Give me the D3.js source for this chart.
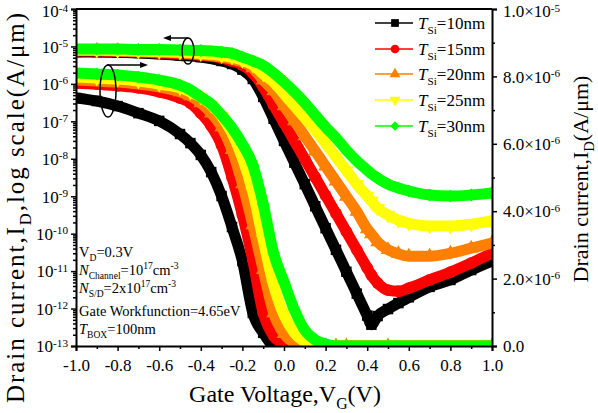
<!DOCTYPE html>
<html>
<head>
<meta charset="utf-8">
<script src="https://cdn.jsdelivr.net/npm/d3@7"></script>
<style>
  body { margin: 0; background: #fff; }
  svg, svg text { font-family: "Liberation Serif", "Times New Roman", serif; }
</style>
</head>
<body>
<div id="chart"></div>
<script>
// Gate voltage grid for the log-scale curves (left axis)
var vgLog = [-1.0, -0.9, -0.8, -0.7, -0.6, -0.5, -0.4, -0.3, -0.25, -0.2, -0.15, -0.1, -0.05,
  0.0, 0.05, 0.1, 0.15, 0.2, 0.25, 0.3, 0.35, 0.4, 0.42, 0.45, 0.5, 0.55, 0.6, 0.7, 0.8, 0.9, 1.0];

// Drain current (A/um), log-scale curves
var idLog10 = [7.1e-6, 7.1e-6, 6.9e-6, 6.7e-6, 6.3e-6, 5.75e-6, 5.2e-6, 4.1e-6, 3.4e-6, 2.4e-6, 1.35e-6, 4.5e-7, 1.17e-7,
  3.0e-8, 7.9e-9, 2.1e-9, 5.4e-10, 1.4e-10, 3.7e-11, 9.6e-12, 2.5e-12, 6.5e-13, 3.7e-13, 6.3e-13, 9.7e-13, 1.4e-12, 2.0e-12, 3.8e-12, 5.8e-12, 1.07e-11, 1.86e-11];
var idLog15 = [7.55e-6, 7.55e-6, 7.33e-6, 7.1e-6, 6.7e-6, 6.3e-6, 5.75e-6, 4.9e-6, 4.1e-6, 3.2e-6, 1.95e-6, 8.3e-7, 2.7e-7,
  9.0e-8, 3.0e-8, 9.9e-9, 3.2e-9, 1.05e-9, 3.45e-10, 1.13e-10, 3.7e-11, 1.22e-11, 7.9e-12, 4.8e-12, 3.1e-12, 2.9e-12, 3.5e-12, 5.8e-12, 9.4e-12, 1.64e-11, 3.0e-11];
var idLog20 = [7.8e-6, 7.8e-6, 7.55e-6, 7.33e-6, 7.1e-6, 6.7e-6, 6.1e-6, 5.2e-6, 4.6e-6, 3.85e-6, 2.65e-6, 1.27e-6, 6.5e-7,
  2.57e-7, 1.02e-7, 4.05e-8, 1.6e-8, 6.3e-9, 2.5e-9, 9.9e-10, 3.9e-10, 1.33e-10, 9.8e-11, 6.0e-11, 3.7e-11, 2.9e-11, 2.5e-11, 2.5e-11, 3.0e-11, 4.1e-11, 5.6e-11];
var idLog25 = [8.0e-6, 8.0e-6, 7.8e-6, 7.55e-6, 7.33e-6, 7.1e-6, 6.5e-6, 5.75e-6, 5.2e-6, 4.3e-6, 3.2e-6, 1.84e-6, 1.12e-6,
  5.4e-7, 2.6e-7, 1.23e-7, 5.9e-8, 2.6e-8, 1.11e-8, 4.85e-9, 2.1e-9, 1.01e-9, 7.5e-10, 4.8e-10, 3.15e-10, 2.3e-10, 1.9e-10, 1.6e-10, 1.6e-10, 1.8e-10, 2.2e-10];
var idLog30 = [8.55e-6, 8.55e-6, 8.55e-6, 8.3e-6, 8.3e-6, 8.0e-6, 7.8e-6, 7.1e-6, 6.5e-6, 5.2e-6, 4.1e-6, 3.1e-6, 1.95e-6,
  1.12e-6, 6.1e-7, 3.1e-7, 1.47e-7, 7.0e-8, 3.6e-8, 1.7e-8, 8.7e-9, 5.0e-9, 4.0e-9, 3.06e-9, 2.1e-9, 1.66e-9, 1.38e-9, 1.08e-9, 1.01e-9, 1.08e-9, 1.22e-9];

// Gate voltage grid for the linear-scale curves (right axis)
var vgLin = [-1.0, -0.9, -0.8, -0.7, -0.6, -0.5, -0.45, -0.4, -0.35, -0.3, -0.25, -0.2, -0.15, -0.1, -0.05,
  0.0, 0.05, 0.1, 0.15, 0.2, 0.25, 0.3, 0.5, 1.0];

// Drain current (units of 1e-6 A/um), linear-scale curves
var idLin10 = [7.36, 7.27, 7.12, 6.91, 6.68, 6.29, 6.02, 5.67, 5.16, 4.45, 3.53, 2.52, 0.98, 0.39, 0.03, 0, 0, 0, 0, 0, 0, 0, 0, 0];
var idLin15 = [7.80, 7.77, 7.72, 7.66, 7.54, 7.36, 7.21, 6.91, 6.53, 5.96, 5.01, 3.89, 2.55, 0.98, 0.30, 0.06, 0, 0, 0, 0, 0, 0, 0, 0];
var idLin20 = [7.89, 7.86, 7.83, 7.77, 7.69, 7.54, 7.42, 7.21, 6.91, 6.50, 5.82, 4.81, 3.59, 2.26, 0.98, 0.36, 0.09, 0, 0, 0, 0, 0, 0, 0];
var idLin25 = [7.98, 7.95, 7.92, 7.86, 7.77, 7.66, 7.54, 7.39, 7.15, 6.82, 6.32, 5.58, 4.57, 3.15, 1.81, 0.92, 0.39, 0.12, 0.01, 0, 0, 0, 0, 0];
var idLin30 = [8.10, 8.07, 8.04, 7.98, 7.89, 7.74, 7.60, 7.39, 7.18, 6.85, 6.47, 5.99, 5.37, 4.21, 2.76, 1.90, 1.07, 0.47, 0.18, 0.06, 0, 0, 0, 0];

var thickness = ["10nm", "15nm", "20nm", "25nm", "30nm"];
var colors = ["#000000", "#ff0000", "#ff8000", "#ffff00", "#00ff00"];

// tick values
var xTicks = [-1.0, -0.8, -0.6, -0.4, -0.2, 0.0, 0.2, 0.4, 0.6, 0.8, 1.0];
var xMinor = [-0.9, -0.7, -0.5, -0.3, -0.1, 0.1, 0.3, 0.5, 0.7, 0.9];
var logTicks = [1e-13, 1e-12, 1e-11, 1e-10, 1e-9, 1e-8, 1e-7, 1e-6, 1e-5, 1e-4];
var linTicks = [0, 2e-6, 4e-6, 6e-6, 8e-6, 1e-5];
var linMinor = [1e-6, 3e-6, 5e-6, 7e-6, 9e-6];

var logSeries = [idLog10, idLog15, idLog20, idLog25, idLog30];
var linSeries = [idLin10, idLin15, idLin20, idLin25, idLin30];
var shapes = ["square", "circle", "triangle", "triangleDown", "diamond"];

var margin = {top: 9, right: 106, bottom: 67, left: 76},
    width = 598 - margin.left - margin.right,
    height = 413 - margin.top - margin.bottom;

var svg = d3.select("#chart").append("svg")
    .attr("width", 598)
    .attr("height", 413);

var g = svg.append("g")
    .attr("transform", "translate(" + margin.left + "," + margin.top + ")");

var x = d3.scaleLinear().domain([-1, 1]).range([0, width]);
var yLog = d3.scaleLog().domain([1e-13, 1e-4]).range([height, 0]);
var yLin = d3.scaleLinear().domain([0, 1e-5]).range([height, 0]);

// rich text helper: parts with sub / sup / italic; base = extra vertical offset (px)
function rich(sel, parts, size, supRaise, base) {
  var shift = -(base || 0);
  var raise = supRaise || 0.42;
  parts.forEach(function(p) {
    var target = p.sub ? 0.28 * size : (p.sup ? -raise * size : 0);
    sel.append("tspan")
      .attr("dy", target - shift)
      .attr("font-size", (p.sub || p.sup) ? size * 0.66 : size)
      .attr("font-style", p.i ? "italic" : null)
      .text(p.t);
    shift = target;
  });
}

function symbolPath(shape, size) {
  if (shape == "square") return d3.symbol().type(d3.symbolSquare).size(size)();
  if (shape == "circle") return d3.symbol().type(d3.symbolCircle).size(size)();
  if (shape == "triangle" || shape == "triangleDown") return d3.symbol().type(d3.symbolTriangle).size(size * 0.85)();
  return d3.symbol().type(d3.symbolSquare).size(size * 0.75)();
}
function symbolRotate(shape) {
  if (shape == "triangleDown") return 180;
  if (shape == "diamond") return 45;
  return 0;
}

// clip to the plot frame
g.append("clipPath").attr("id", "clip")
  .append("rect").attr("width", width).attr("height", height);

var plot = g.append("g").attr("clip-path", "url(#clip)");

var lineLog = d3.line()
  .x(function(d) { return x(d[0]); })
  .y(function(d) { return yLog(d[1]); })
  .curve(d3.curveMonotoneX);
var lineLin = d3.line()
  .x(function(d) { return x(d[0]); })
  .y(function(d) { return yLin(d[1]); })
  .curve(d3.curveMonotoneX);

logSeries.forEach(function(vals, i) {
  var logData = vgLog.map(function(v, k) { return [v, vals[k]]; });
  var linData = vgLin.map(function(v, k) { return [v, linSeries[i][k] * 1e-6]; });

  [[logData, lineLog, yLog], [linData, lineLin, yLin]].forEach(function(set) {
    plot.append("path")
      .datum(set[0])
      .attr("fill", "none")
      .attr("stroke", colors[i])
      .attr("stroke-width", 11)
      .attr("stroke-linejoin", "round")
      .attr("d", set[1]);

    plot.selectAll(null)
      .data(set[0])
      .enter().append("path")
      .attr("fill", colors[i])
      .attr("transform", function(d) {
        return "translate(" + x(d[0]) + "," + set[2](d[1]) + ") rotate(" + symbolRotate(shapes[i]) + ")";
      })
      .attr("d", symbolPath(shapes[i], 110));
  });
});

// axes
var fs = 17;

g.append("g")
  .attr("transform", "translate(0," + height + ")")
  .call(d3.axisBottom(x).tickValues(xTicks).tickSize(5).tickPadding(8)
    .tickFormat(function(d) { return d.toFixed(1); }));
g.append("g")
  .attr("transform", "translate(0," + height + ")")
  .call(d3.axisBottom(x).tickValues(xMinor).tickSize(3).tickFormat(""))
  .select(".domain").remove();

var yAxisL = g.append("g")
  .call(d3.axisLeft(yLog).tickValues(logTicks).tickSize(5).tickPadding(3));
yAxisL.selectAll(".tick text").each(function(d) {
  var t = d3.select(this).text("").attr("dy", null);
  var off = 0.34 * fs + (d == 1e-4 ? 2 : 0);
  rich(t, [{t: "10"}, {t: String(Math.round(Math.log10(d))), sup: true}], fs, 0.34, off);
});
var minorLog = [];
logTicks.slice(0, -1).forEach(function(d) {
  for (var m = 2; m < 10; m++) minorLog.push(d * m);
});
g.append("g")
  .call(d3.axisLeft(yLog).tickValues(minorLog).tickSize(3).tickFormat(""))
  .select(".domain").remove();

var yAxisR = g.append("g")
  .attr("transform", "translate(" + width + ",0)")
  .call(d3.axisRight(yLin).tickValues(linTicks).tickSize(5).tickPadding(6));
yAxisR.selectAll(".tick text").each(function(d) {
  var t = d3.select(this).text("").attr("dy", null);
  var off = 0.34 * fs + (d == 1e-5 ? 2 : 0);
  if (d == 0) { rich(t, [{t: "0.0"}], fs, 0.34, off); return; }
  var e = Math.floor(Math.log10(d) + 1e-9);
  var m = d / Math.pow(10, e);
  rich(t, [{t: m.toFixed(1) + "\u00d710"}, {t: String(e), sup: true}], fs, 0.34, off);
});
g.append("g")
  .attr("transform", "translate(" + width + ",0)")
  .call(d3.axisRight(yLin).tickValues(linMinor).tickSize(3).tickFormat(""))
  .select(".domain").remove();

g.append("line")
  .attr("x1", 0).attr("x2", width).attr("y1", 0).attr("y2", 0)
  .attr("stroke", "#000").attr("stroke-width", 2);

g.selectAll("g").attr("font-family", null);
g.selectAll(".domain").attr("stroke-width", 2);
g.selectAll(".tick line").attr("stroke-width", 1.5);
g.selectAll(".tick text")
  .style("font-family", "'Liberation Serif', 'Times New Roman', serif")
  .attr("font-size", fs)
  .attr("fill", "#000");

// axis titles
var xt = svg.append("text")
  .attr("x", 285)
  .attr("y", 402)
  .attr("text-anchor", "middle")
  .attr("font-size", 24);
rich(xt, [{t: "Gate Voltage,V"}, {t: "G", sub: true}, {t: "(V)"}], 24);

var ylt = svg.append("text")
  .attr("transform", "translate(24,208) rotate(-90)")
  .attr("text-anchor", "middle")
  .attr("font-size", 25)
  .attr("textLength", 390)
  .attr("lengthAdjust", "spacing");
rich(ylt, [{t: "Drain current,I"}, {t: "D", sub: true}, {t: ",log scale(A/\u03bcm)"}], 25);

var yrt = svg.append("text")
  .attr("transform", "translate(588,179) rotate(-90)")
  .attr("text-anchor", "middle")
  .attr("font-size", 22);
rich(yrt, [{t: "Drain current,I"}, {t: "D", sub: true}, {t: "(A/\u03bcm)"}], 22);

// legend
var legend = svg.append("g");
var rowY = [23, 49, 74, 100, 126];
thickness.forEach(function(name, i) {
  var row = legend.append("g").attr("transform", "translate(0," + rowY[i] + ")");
  row.append("line")
    .attr("x1", 375).attr("x2", 413)
    .attr("stroke", colors[i]).attr("stroke-width", 1.5);
  row.append("path")
    .attr("transform", "translate(395,0) rotate(" + symbolRotate(shapes[i]) + ")")
    .attr("fill", colors[i])
    .attr("d", symbolPath(shapes[i], 60));
  var t = row.append("text").attr("x", 418).attr("y", 6).attr("font-size", 17);
  rich(t, [{t: "T", i: true}, {t: "Si", sub: true}, {t: "=" + name}], 17);
});

// parameter notes
var notes = [
  [{t: "V"}, {t: "D", sub: true}, {t: "=0.3V"}],
  [{t: "N", i: true}, {t: "Channel", sub: true}, {t: "=10"}, {t: "17", sup: true}, {t: "cm"}, {t: "-3", sup: true}],
  [{t: "N", i: true}, {t: "S/D", sub: true}, {t: "=2x10"}, {t: "17", sup: true}, {t: "cm"}, {t: "-3", sup: true}],
  [{t: "Gate Workfunction=4.65eV"}],
  [{t: "T", i: true}, {t: "BOX", sub: true}, {t: "=100nm"}]
];
var noteY = [257, 275, 293, 316, 334];
notes.forEach(function(parts, i) {
  var t = svg.append("text").attr("x", 79).attr("y", noteY[i]).attr("font-size", 14.5);
  rich(t, parts, 14.5);
});

// ellipses and arrows marking which axis each group uses
var ann = svg.append("g").attr("fill", "none").attr("stroke", "#000").attr("stroke-width", 1.5);
ann.append("ellipse").attr("cx", 188).attr("cy", 51).attr("rx", 6).attr("ry", 13);
ann.append("line").attr("x1", 188).attr("y1", 38).attr("x2", 170).attr("y2", 38);
svg.append("path").attr("d", "M163,38 L171,35 L171,41 Z").attr("fill", "#000");

ann.append("ellipse").attr("cx", 108).attr("cy", 91).attr("rx", 8).attr("ry", 26);
ann.append("line").attr("x1", 107).attr("y1", 65).attr("x2", 141).attr("y2", 65);
svg.append("path").attr("d", "M148,65 L140,62 L140,68 Z").attr("fill", "#000");
</script>
</body>
</html>
